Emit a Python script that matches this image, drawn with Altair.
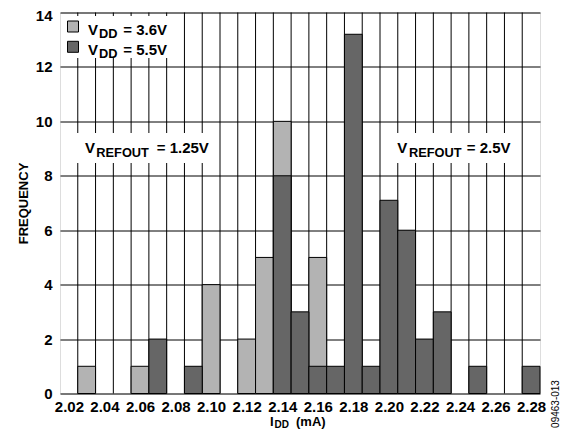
import altair as alt
import pandas as pd

# ---- data ----
currents = [2.02, 2.03, 2.04, 2.05, 2.06, 2.07, 2.08, 2.09, 2.10, 2.11, 2.12, 2.13, 2.14,
            2.15, 2.16, 2.17, 2.18, 2.19, 2.20, 2.21, 2.22, 2.23, 2.24, 2.25, 2.26, 2.27, 2.28]
freq_vdd_3v6 = [0, 1, 0, 0, 1, 0, 0, 0, 4, 0, 2, 5, 10, 0, 5, 0, 0, 0, 0, 0, 0, 0, 0, 0, 0, 0, 0]
freq_vdd_5v5 = [0, 0, 0, 0, 0, 2, 0, 1, 0, 0, 0, 0, 8, 3, 1, 1, 13.2, 1, 7.1, 6, 2, 3, 0, 1, 0, 0, 1]
x_tick_labels = ["2.02", "2.04", "2.06", "2.08", "2.10", "2.12", "2.14",
                 "2.16", "2.18", "2.20", "2.22", "2.24", "2.26", "2.28"]
y_ticks = [0, 2, 4, 6, 8, 10, 12, 14]
series_names = ["VDD = 3.6V", "VDD = 5.5V"]
series_colors = ["#b3b3b3", "#666666"]
bin_width = 0.01

FONT = "Liberation Sans"

rows = []
for name, freqs in zip(series_names, [freq_vdd_3v6, freq_vdd_5v5]):
    for c, f in zip(currents, freqs):
        rows.append({"series": name, "current": c,
                     "lo": round(c - bin_width / 2, 4), "hi": round(c + bin_width / 2, 4),
                     "freq": f})
df = pd.DataFrame(rows)
edges = pd.DataFrame({"edge": [round(c + bin_width / 2, 4) for c in currents[:-1]]})

x_scale = alt.Scale(domain=[currents[0] - bin_width / 2, currents[-1] + bin_width / 2],
                    nice=False, zero=False)
y_scale = alt.Scale(domain=[0, 14], nice=False)

x_axis = alt.Axis(values=[float(t) for t in x_tick_labels], format=".2f", grid=False,
                  ticks=False, domain=False, labelFont=FONT, labelFontSize=15,
                  labelFontWeight="bold", labelColor="black", labelPadding=6,
                  labelFlush=False, labelOverlap=False, title=None)
y_axis = alt.Axis(values=y_ticks, grid=True, gridColor="black", gridWidth=1, gridOpacity=1,
                  ticks=False, domain=False, labelFont=FONT, labelFontSize=15,
                  labelFontWeight="bold", labelColor="black", labelPadding=8,
                  labelOffset={"condition": {"test": f"datum.value == {y_ticks[-1]}", "value": 3},
                               "value": 0},
                  labelFlush=False, title="FREQUENCY", titleFont=FONT, titleFontSize=13,
                  titleFontWeight="bold", titleColor="black", titlePadding=5)

rules = alt.Chart(edges).mark_rule(color="black", strokeWidth=1).encode(
    x=alt.X("edge:Q", scale=x_scale, axis=x_axis)
)


def bars(name, color):
    return alt.Chart(df).transform_filter(
        (alt.datum.series == name) & (alt.datum.freq > 0)
    ).mark_rect(fill=color, stroke="black", strokeWidth=1, opacity=1).encode(
        x=alt.X("lo:Q", scale=x_scale, axis=x_axis),
        x2="hi:Q",
        y=alt.Y("freq:Q", scale=y_scale, axis=y_axis, stack=None),
        y2=alt.datum(0),
    )


one = pd.DataFrame({"k": [0]})


def box(x1, x2, y1, y2, fill="white", stroke=None):
    kw = {"fill": fill, "opacity": 1}
    if stroke:
        kw.update(stroke=stroke, strokeWidth=1)
    return alt.Chart(one).mark_rect(**kw).encode(
        x=alt.value(x1), x2=alt.value(x2), y=alt.value(y1), y2=alt.value(y2))


def txt(s, x, y, size=15, weight="bold", angle=0, align="left", baseline="alphabetic"):
    return alt.Chart(one).mark_text(text=s, font=FONT, fontSize=size, fontWeight=weight,
                                    align=align, baseline=baseline, angle=angle,
                                    color="black").encode(x=alt.value(x), y=alt.value(y))


layers = [
    rules,
    bars(series_names[0], series_colors[0]),
    bars(series_names[1], series_colors[1]),
    # white backgrounds of legend and annotations
    box(1, 120, 3.5, 45.5),
    box(16, 152, 120.5, 150.5),
    box(333, 456, 120.5, 150.5),
    # legend swatches
    box(7.5, 18.5, 8.5, 19.5, fill=series_colors[0], stroke="black"),
    box(7.5, 18.5, 28.8, 39.8, fill=series_colors[1], stroke="black"),
    # legend texts
    txt("V", 28, 22.3), txt("DD", 39, 25.7, size=12.8), txt("= 3.6V", 63.3, 22.3),
    txt("V", 28, 42.3), txt("DD", 39, 45.7, size=12.8), txt("= 5.5V", 63.3, 42.3),
    # annotations
    txt("V", 25, 140.8), txt("REFOUT", 36.3, 144.2, size=12.8), txt("= 1.25V", 96.7, 140.8),
    txt("V", 337.3, 140.8), txt("REFOUT", 349, 144.2, size=12.8), txt("= 2.5V", 406.7, 140.8),
    # x-axis title with subscript
    txt("I", 210, 413.3, size=13), txt("DD", 214.5, 415.5, size=10), txt("(mA)", 236, 413.3, size=13),
    # figure id
    txt("09463-013", 496, 391.5, size=10, weight="normal", angle=270, align="center",
        baseline="middle"),
]

chart = alt.layer(*layers).properties(
    width=480, height=381,
    autosize=alt.AutoSizeParams(type="none"),
    padding={"left": 52, "top": 4.5, "right": 23, "bottom": 35},
).configure_view(stroke="black", strokeWidth=1.5).configure(font=FONT)

chart.save("out.html", embed_options={"renderer": "svg", "actions": False})
